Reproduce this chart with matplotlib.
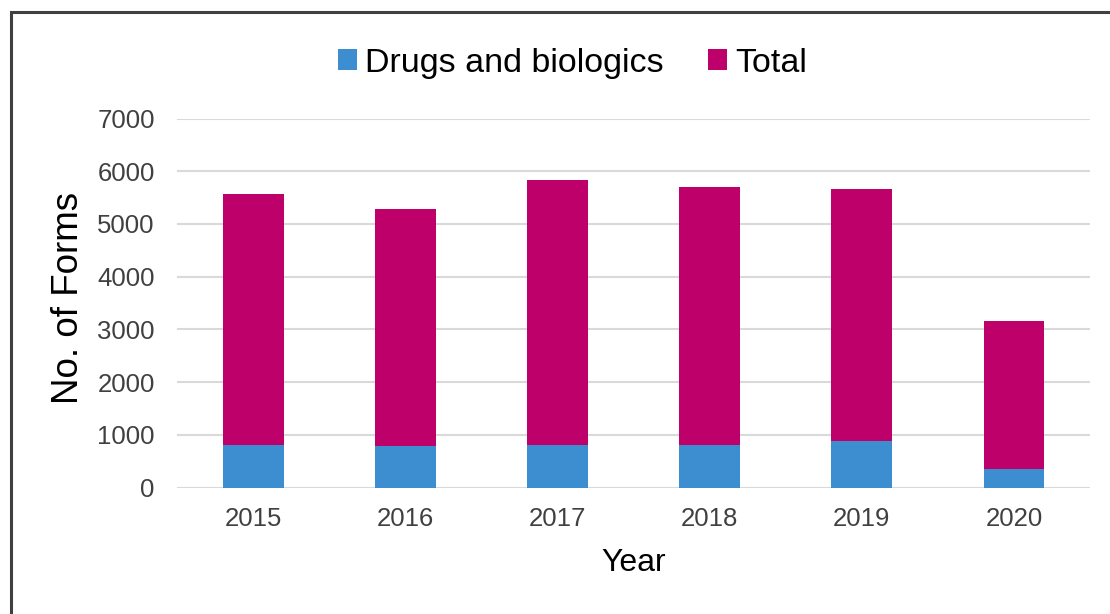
import matplotlib
matplotlib.use('Agg')
import matplotlib.pyplot as plt
from matplotlib.patches import Rectangle
import numpy as np

# --- data ---
years = ['2015', '2016', '2017', '2018', '2019', '2020']
drugs_biologics = [812, 787, 812, 812, 894, 361]
total = [5560, 5290, 5840, 5710, 5670, 3160]

blue = '#3D8ED0'
magenta = '#BE006A'

plt.rcParams['font.family'] = ['Liberation Sans', 'DejaVu Sans']

fig = plt.figure(figsize=(11.1, 6.14), dpi=100)
ax = fig.add_axes([0.1595, 0.2057, 0.8225, 0.6013])

x = np.arange(len(years))
b_total = ax.bar(x, total, width=0.4, color=magenta, zorder=2, label='Total')
b_drugs = ax.bar(x, drugs_biologics, width=0.4, color=blue, zorder=3,
                 label='Drugs and biologics')

ax.set_xlim(-0.5, len(years) - 0.5)
ax.set_ylim(0, 7000)
ax.set_yticks(range(0, 7001, 1000))
ax.set_xticks(x)
ax.set_xticklabels(years)
ax.yaxis.grid(True, color='#d9d9d9', linewidth=1.5, zorder=0)
ax.set_axisbelow(True)
for s in ax.spines.values():
    s.set_visible(False)
ax.tick_params(axis='both', length=0, labelsize=18.5, labelcolor='#404040')
ax.tick_params(axis='y', pad=16)
ax.tick_params(axis='x', pad=14)

ax.set_xlabel('Year', fontsize=23, color='black', labelpad=12)
ax.set_ylabel('No. of Forms', fontsize=26.5, color='black', va='center')
ax.yaxis.set_label_coords(-0.119, 0.515)

fig.legend(handles=[b_drugs, b_total], labels=['Drugs and biologics', 'Total'],
           loc='center', bbox_to_anchor=(0.5158, 0.897), ncol=2, frameon=False,
           fontsize=24.5, handlelength=0.56, handleheight=0.56,
           handletextpad=0.25, columnspacing=1.3)

# chart-area border (only left and top edges show in the crop)
fig.patches.append(Rectangle((10.5 / 1110, -0.1), 1.2, 1 - 11.5 / 614 + 0.1,
                             transform=fig.transFigure, fill=False,
                             edgecolor='#404040', linewidth=2.2))

fig.savefig('out.png', dpi=100)
